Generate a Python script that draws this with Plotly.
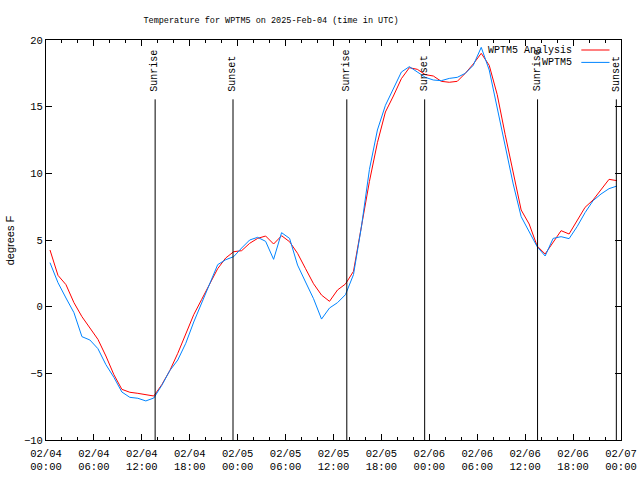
import pandas as pd
import plotly.graph_objects as go

# hourly samples (UTC), starting 02/04 00:30
times = pd.date_range("2025-02-04 00:30", periods=72, freq="h")

analysis = [4.25, 2.35, 1.65, 0.3, -0.75, -1.62, -2.45, -3.7, -5.1, -6.2,
            -6.42, -6.5, -6.58, -6.7, -5.85, -4.8, -3.5, -2.05, -0.6, 0.55,
            1.7, 2.85, 3.65, 4.12, 4.2, 4.75, 5.12, 5.3, 4.7, 5.32,
            4.87, 4.0, 2.85, 1.72, 0.87, 0.4, 1.25, 1.7, 2.65, 6.1,
            9.4, 12.3, 14.6, 15.8, 17.1, 17.92, 17.8, 17.4, 17.3, 16.9,
            16.83, 16.9, 17.5, 18.2, 19.0, 18.1, 15.9, 12.9, 10.1, 7.25,
            6.2, 4.55, 3.95, 4.8, 5.7, 5.45, 6.45, 7.45, 8.0, 8.75,
            9.55, 9.45]

observed = [3.3, 1.8, 0.65, -0.45, -2.25, -2.5, -3.15, -4.35, -5.3, -6.4,
            -6.8, -6.87, -7.07, -6.85, -5.9, -4.8, -4.0, -2.75, -1.15, 0.3,
            1.8, 3.15, 3.52, 3.75, 4.4, 5.0, 5.2, 4.9, 3.55, 5.55,
            5.12, 3.12, 1.85, 0.6, -0.93, -0.1, 0.3, 0.9, 2.4, 6.0,
            10.3, 13.25, 15.1, 16.4, 17.6, 18.0, 17.6, 17.2, 17.0, 16.95,
            17.12, 17.2, 17.5, 18.1, 19.45, 17.75, 14.9, 12.1, 9.2, 6.75,
            5.6, 4.5, 3.8, 5.12, 5.25, 5.1, 6.0, 7.05, 7.95, 8.45,
            8.85, 9.05]

sun_events = [("2025-02-04 13:40", "Sunrise"), ("2025-02-04 23:25", "Sunset"),
              ("2025-02-05 13:40", "Sunrise"), ("2025-02-05 23:25", "Sunset"),
              ("2025-02-06 13:33", "Sunrise"), ("2025-02-06 23:25", "Sunset")]

series_names = ["WPTM5 Analysis", "WPTM5"]
series_colors = ["#ff0000", "#0084ff"]

MONO = "Liberation Mono, DejaVu Sans Mono, monospace"

fig = go.Figure()
fig.add_trace(go.Scatter(x=times, y=analysis, mode="lines", name=series_names[0],
                         line=dict(color=series_colors[0], width=1)))
fig.add_trace(go.Scatter(x=times, y=observed, mode="lines", name=series_names[1],
                         line=dict(color=series_colors[1], width=1)))

for t, label in sun_events:
    fig.add_shape(type="line", x0=t, x1=t, y0=-10, y1=15.55, xref="x", yref="y",
                  line=dict(color="black", width=1))
    fig.add_annotation(x=t, y=16.05, xref="x", yref="y", text=label, textangle=-90,
                       showarrow=False, xanchor="center", yanchor="bottom",
                       borderpad=0, font=dict(family=MONO, size=10, color="black"))

# gnuplot-style legend: text right-aligned, sample line to the right
leg_y = [0.975, 0.944]
for name, color, yy in zip(series_names, series_colors, leg_y):
    fig.add_annotation(x=0.9165, y=yy, xref="paper", yref="paper", text=name,
                       showarrow=False, xanchor="right", yanchor="middle",
                       borderpad=0, font=dict(family=MONO, size=10, color="black"))
    fig.add_shape(type="line", x0=0.931, x1=0.98, y0=yy, y1=yy, xref="paper",
                  yref="paper", line=dict(color=color, width=1))

fig.add_annotation(x=-0.062, y=0.5, xref="paper", yref="paper", text="degrees F",
                   textangle=-90, showarrow=False, xanchor="center", yanchor="middle",
                   font=dict(family="Liberation Sans, Arial, sans-serif", size=11,
                             color="black"))

fig.update_layout(
    width=640, height=480,
    margin=dict(l=46, r=19, t=40, b=40, autoexpand=False),
    paper_bgcolor="white", plot_bgcolor="white",
    showlegend=False,
    title=dict(text="Temperature for WPTM5 on 2025-Feb-04 (time in UTC)",
               x=271 / 640, xanchor="center", y=1 - 20 / 480, yanchor="middle",
               font=dict(family=MONO, size=8.5, color="black")),
    font=dict(family=MONO, size=10, color="black"),
)

fig.update_xaxes(
    type="date", range=["2025-02-04 00:00", "2025-02-07 00:00"],
    tick0="2025-02-04 00:00", dtick=6 * 3600 * 1000,
    tickformat="%m/%d<br>%H:%M",
    ticks="inside", ticklen=6, tickcolor="black", tickwidth=1,
    minor=dict(ticks="inside", ticklen=3, dtick=2 * 3600 * 1000,
               tick0="2025-02-04 00:00", tickcolor="black"),
    showline=True, linecolor="black", linewidth=1, mirror="ticks",
    showgrid=False, zeroline=False, ticklabelstandoff=3, automargin=False,
    tickfont=dict(family=MONO, size=10.5, color="black"),
)
fig.update_yaxes(
    range=[-10, 20], tick0=-10, dtick=5,
    ticks="inside", ticklen=6, tickcolor="black", tickwidth=1,
    showline=True, linecolor="black", linewidth=1, mirror="ticks",
    showgrid=False, zeroline=False, automargin=False,
    tickfont=dict(family=MONO, size=10.5, color="black"),
)

fig.write_html("out.html", config={"displayModeBar": False},
               post_script="document.body.style.margin='0';document.body.style.padding='0';")
